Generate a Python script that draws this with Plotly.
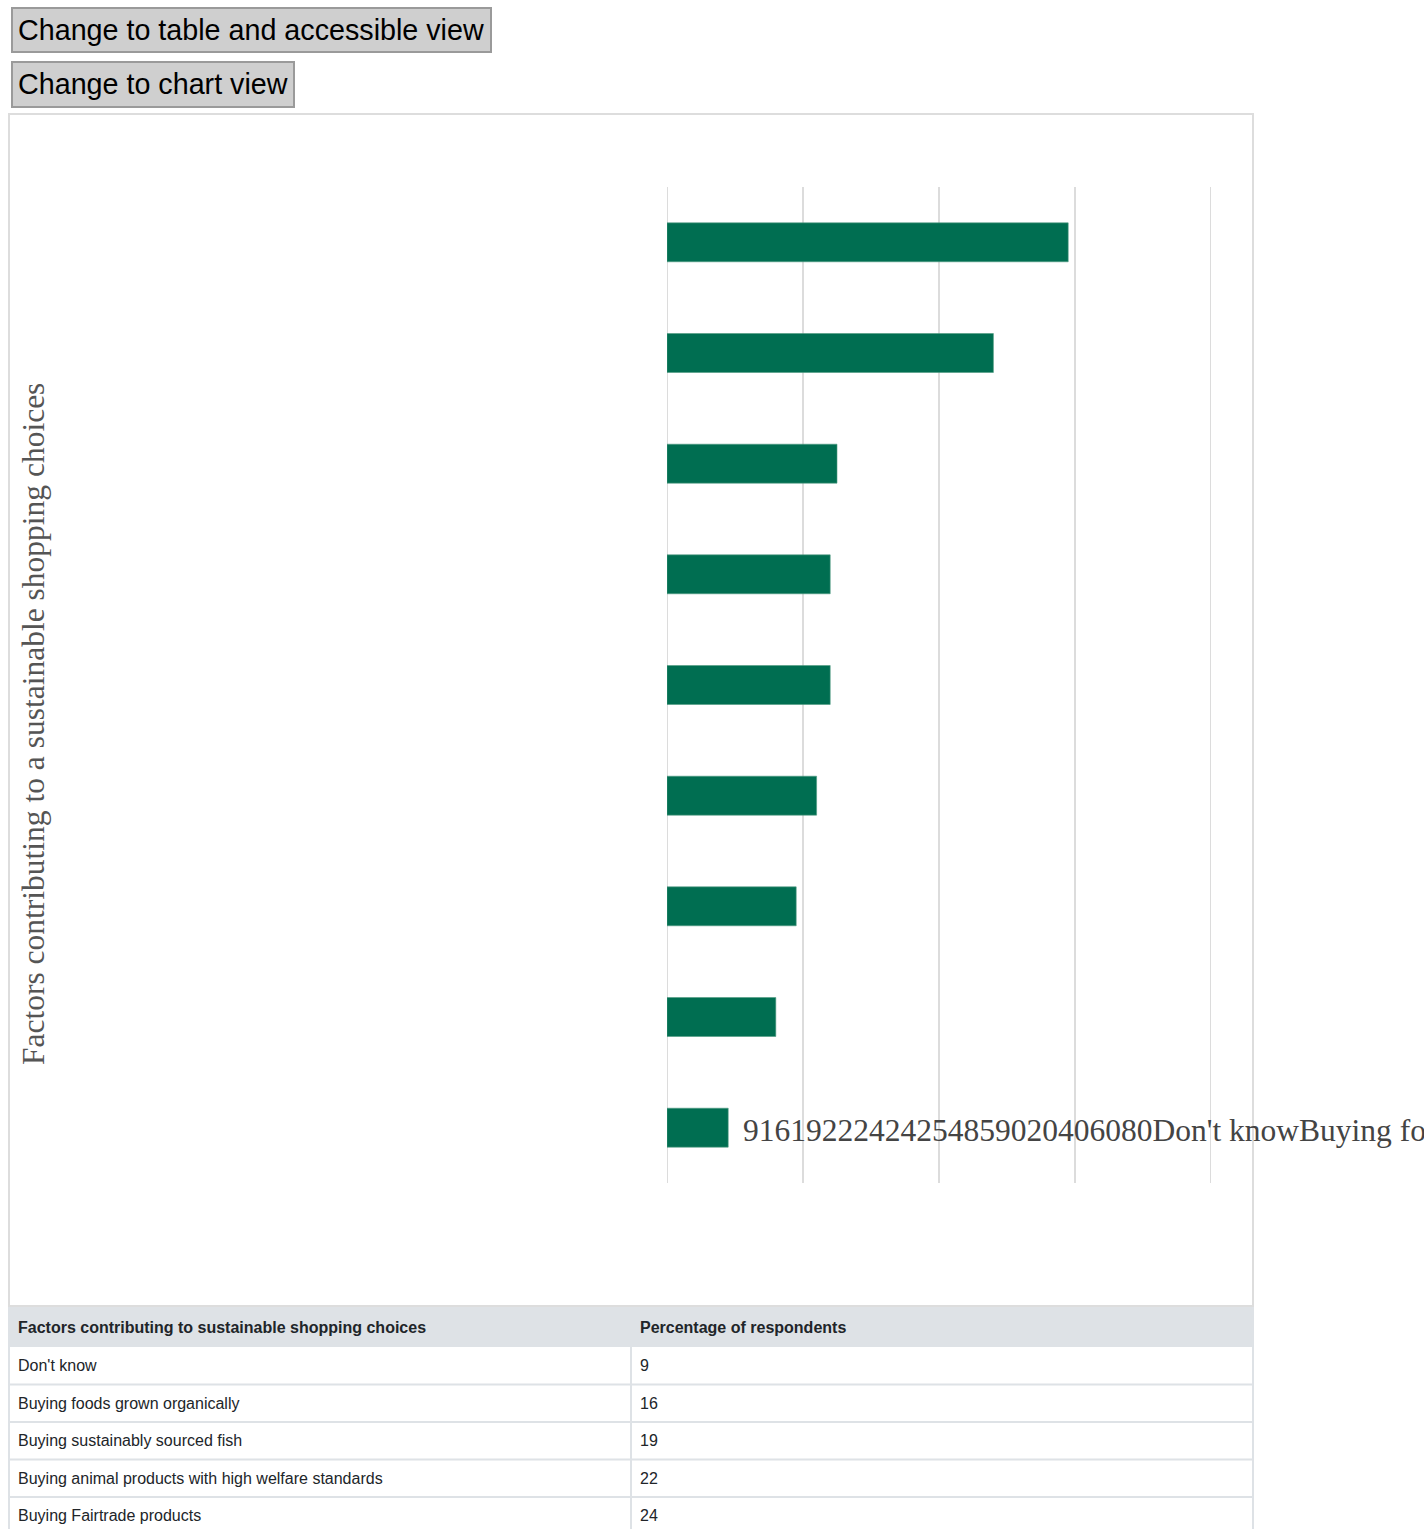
import plotly.graph_objects as go

# Survey results: share of respondents naming each factor (ascending order)
categories = [
    "Don't know",
    "Buying foods grown organically",
    "Buying sustainably sourced fish",
    "Buying animal products with high welfare standards",
    "Buying Fairtrade products",
    "Eating a plant-based diet",
    "Buying seasonal foods",
    "Buying foods with less packaging",
    "Buying locally produced foods",
]
percentages = [9, 16, 19, 22, 24, 24, 25, 48, 59]
tick_values = [0, 20, 40, 60, 80]
tick_labels = ["0", "20", "40", "60", "80"]

axis_title = "Factors contributing to a sustainable shopping choices"
table_headers = ["Factors contributing to sustainable shopping choices", "Percentage of respondents"]
button_labels = ["Change to table and accessible view", "Change to chart view"]

W, H = 1424, 1529
BAR_COLOR = "#006e51"
GRID_COLOR = "#dcdcdc"
SANS = "Liberation Sans, Arial, sans-serif"
SERIF = "Liberation Serif, Times New Roman, serif"


def fx(px):
    return px / W


def fy(py):
    return 1 - py / H


PLOT_TOP, PLOT_BOTTOM = 187, 1183

fig = go.Figure()

fig.add_trace(go.Bar(
    x=percentages,
    y=categories,
    orientation="h",
    width=0.352,
    marker=dict(color=BAR_COLOR, line=dict(color="#4f9a82", width=0.6)),
    hoverinfo="x+y",
    showlegend=False,
))

shapes = []
annotations = []

# Vertical grid lines at every tick, including both ends of the range
for tv in tick_values:
    shapes.append(dict(type="line", xref="x", yref="paper",
                       x0=tv, x1=tv, y0=fy(PLOT_BOTTOM), y1=fy(PLOT_TOP),
                       line=dict(color=GRID_COLOR, width=2), layer="below"))

# Toggle buttons above the chart
button_boxes = [(12, 8, 491, 52), (12, 62, 294, 107)]
for label, (x0, y0, x1, y1) in zip(button_labels, button_boxes):
    shapes.append(dict(type="rect", xref="paper", yref="paper",
                       x0=fx(x0), x1=fx(x1), y0=fy(y0), y1=fy(y1),
                       fillcolor="#cfcfcf", line=dict(color="#9a9a9a", width=2), layer="below"))
    annotations.append(dict(text=label, xref="paper", yref="paper",
                            x=fx(x0 + 4), y=fy((y0 + y1) / 2), xanchor="left", yanchor="middle",
                            showarrow=False, font=dict(family=SANS, size=28.7, color="#000000")))

# Chart container frame
shapes.append(dict(type="rect", xref="paper", yref="paper",
                   x0=fx(9), x1=fx(1253), y0=fy(114), y1=fy(1306),
                   fillcolor="rgba(0,0,0,0)", line=dict(color="#dddddd", width=2), layer="below"))

# Rotated axis title
annotations.append(dict(text=axis_title, xref="paper", yref="paper",
                        x=fx(33), y=fy(724), textangle=-90, xanchor="center", yanchor="middle",
                        showarrow=False, font=dict(family=SERIF, size=31.5, color="#555555")))

# Unlaid-out label text spilling after the last bar
spill = "".join(str(v) for v in percentages) + "".join(tick_labels) + "".join(categories)
annotations.append(dict(text=spill, xref="paper", yref="paper",
                        x=fx(741), y=fy(1130), xanchor="left", yanchor="middle",
                        showarrow=False, font=dict(family=SERIF, size=31.5, color="#444444")))

# Data table below the chart
table_left, table_mid, table_right = 9, 631, 1253
header_top, header_h, row_h = 1307, 40, 37.5
shapes.append(dict(type="rect", xref="paper", yref="paper",
                   x0=fx(table_left), x1=fx(table_right), y0=fy(header_top), y1=fy(header_top + header_h),
                   fillcolor="#dee2e6", line=dict(width=0), layer="below"))
for col_x, head in zip([16, 638], table_headers):
    annotations.append(dict(text="<b>" + head + "</b>", xref="paper", yref="paper",
                            x=fx(col_x), y=fy(header_top + header_h / 2), xanchor="left", yanchor="middle",
                            showarrow=False, font=dict(family=SANS, size=16, color="#212529")))

rows_top = header_top + header_h
for i, (cat, val) in enumerate(zip(categories, percentages)):
    top = rows_top + i * row_h
    bottom = top + row_h
    if top + row_h / 2 + 10 > H:
        break  # rows below the visible page area
    shapes.append(dict(type="line", xref="paper", yref="paper",
                       x0=fx(table_left), x1=fx(table_right), y0=fy(bottom), y1=fy(bottom),
                       line=dict(color="#dee2e6", width=2)))
    annotations.append(dict(text=cat, xref="paper", yref="paper",
                            x=fx(16), y=fy(top + row_h / 2), xanchor="left", yanchor="middle",
                            showarrow=False, font=dict(family=SANS, size=16, color="#212529")))
    annotations.append(dict(text=str(val), xref="paper", yref="paper",
                            x=fx(638), y=fy(top + row_h / 2), xanchor="left", yanchor="middle",
                            showarrow=False, font=dict(family=SANS, size=16, color="#212529")))

table_bottom = rows_top + len(categories) * row_h
for vx in (table_left, table_right):
    shapes.append(dict(type="line", xref="paper", yref="paper",
                       x0=fx(vx), x1=fx(vx), y0=fy(header_top), y1=fy(table_bottom),
                       line=dict(color="#dee2e6", width=2)))
shapes.append(dict(type="line", xref="paper", yref="paper",
                   x0=fx(table_mid), x1=fx(table_mid), y0=fy(rows_top), y1=fy(table_bottom),
                   line=dict(color="#dee2e6", width=2)))

fig.update_layout(
    width=W, height=H,
    margin=dict(l=0, r=0, t=0, b=0),
    paper_bgcolor="#ffffff", plot_bgcolor="#ffffff",
    xaxis=dict(domain=[fx(667), fx(1211)], range=[0, 80], tickvals=tick_values,
               showticklabels=False, showgrid=False, zeroline=False, showline=False,
               fixedrange=True),
    yaxis=dict(domain=[fy(PLOT_BOTTOM), fy(PLOT_TOP)], categoryorder="array", categoryarray=categories,
               showticklabels=False, showgrid=False, zeroline=False, showline=False,
               fixedrange=True),
    shapes=shapes,
    annotations=annotations,
)

fig.write_html("out.html", config={"displayModeBar": False})
